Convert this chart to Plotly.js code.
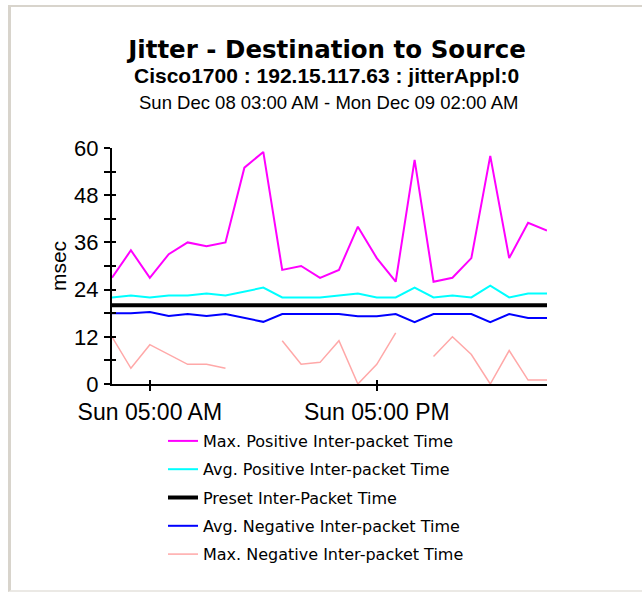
<!DOCTYPE html>
<html><head><meta charset="utf-8">
<script src="https://cdn.plot.ly/plotly-3.0.1.min.js"></script>
<style>
html,body{margin:0;padding:0;background:#fff;}
#frame{position:absolute;left:8px;top:5px;width:634px;height:587px;border-left:3px solid #d8d4cc;border-top:2px solid #d8d4cc;border-bottom:2px solid #ebe9e5;box-sizing:border-box;}
#chart{position:absolute;left:0;top:0;width:642px;height:592px;}
</style></head><body>
<div id="frame"></div>
<div id="chart"></div>
<script>
// ---- data ----
const times = [
  '2002-12-08 03:00','2002-12-08 04:00','2002-12-08 05:00','2002-12-08 06:00',
  '2002-12-08 07:00','2002-12-08 08:00','2002-12-08 09:00','2002-12-08 10:00',
  '2002-12-08 11:00','2002-12-08 12:00','2002-12-08 13:00','2002-12-08 14:00',
  '2002-12-08 15:00','2002-12-08 16:00','2002-12-08 17:00','2002-12-08 18:00',
  '2002-12-08 19:00','2002-12-08 20:00','2002-12-08 21:00','2002-12-08 22:00',
  '2002-12-08 23:00','2002-12-09 00:00','2002-12-09 01:00','2002-12-09 02:00'
];
const maxPositive = [27, 34, 27, 33, 36, 35, 36, 55, 59, 29, 30, 27, 29, 40, 32, 26, 57, 26, 27, 32, 58, 32, 41, 39];
const avgPositive = [22, 22.5, 22, 22.5, 22.5, 23, 22.5, 23.5, 24.5, 22, 22, 22, 22.5, 23, 22, 22, 24.5, 22, 22.5, 22, 25, 22, 23, 23];
const presetTime  = [20, 20, 20, 20, 20, 20, 20, 20, 20, 20, 20, 20, 20, 20, 20, 20, 20, 20, 20, 20, 20, 20, 20, 20];
const avgNegative = [18, 18, 18.3, 17.3, 17.8, 17.3, 17.8, 16.8, 15.8, 17.8, 17.8, 17.8, 17.8, 17.2, 17.2, 17.8, 15.7, 17.8, 17.8, 17.8, 15.7, 17.8, 16.8, 16.8];
const maxNegative = [12, 4, 10, 7.5, 5, 5, 4, null, null, 11, 5, 5.5, 11, 0, 5, 13, null, 7, 12, 7.5, 0, 8.5, 1, 1];
const seriesNames = ['Max. Positive Inter-packet Time','Avg. Positive Inter-packet Time','Preset Inter-Packet Time','Avg. Negative Inter-packet Time','Max. Negative Inter-packet Time'];
const xRange = ['2002-12-08 03:00','2002-12-09 02:00'];
const xTickVals = ['2002-12-08 05:00','2002-12-08 17:00'];
const xTickText = ['Sun 05:00 AM','Sun 05:00 PM'];
const yTickVals = [0, 6, 12, 18, 24, 30, 36, 42, 48, 54, 60];
const yTickText = ['0', '', '12', '', '24', '', '36', '', '48', '', '60'];
const titleText = 'Jitter - Destination to Source';
const subTitle1 = 'Cisco1700 : 192.15.117.63 : jitterAppl:0';
const subTitle2 = 'Sun Dec 08 03:00 AM - Mon Dec 09 02:00 AM';

// ---- geometry ----
const W = 642, H = 592, L = 112, R = 95, T = 148, B = 208;
const PW = W - L - R, PH = H - T - B;
const px2x = p => (p - L) / PW;
const px2y = p => (H - B - p) / PH;
const SANS = 'Liberation Sans, Arial, sans-serif';
const DEJA = 'DejaVu Sans, sans-serif';

const traces = [
  {x: times, y: maxPositive, name: seriesNames[0], mode: 'lines', line: {color: '#ff00ff', width: 2}, legendgroup: 'g1'},
  {x: times, y: avgPositive, name: seriesNames[1], mode: 'lines', line: {color: '#00ffff', width: 2}, legendgroup: 'g2'},
  {x: times, y: presetTime, name: seriesNames[2], mode: 'lines', line: {color: '#000000', width: 4}, legendgroup: 'g3', xaxis: 'x2', yaxis: 'y2'},
  {x: times, y: avgNegative, name: seriesNames[3], mode: 'lines', line: {color: '#0000ff', width: 2}, legendgroup: 'g4'},
  {x: times, y: maxNegative, name: seriesNames[4], mode: 'lines', line: {color: '#ffa8a8', width: 1.5}, legendgroup: 'g5', connectgaps: false}
];

const layout = {
  width: W, height: H,
  margin: {l: L, r: R, t: T, b: B, pad: 0},
  paper_bgcolor: 'rgba(0,0,0,0)', plot_bgcolor: 'rgba(0,0,0,0)',
  font: {family: SANS, color: '#000'},
  showlegend: true,
  title: {
    text: '<b>' + titleText + '</b>',
    font: {family: DEJA, size: 24.5, color: '#000'},
    xref: 'container', yref: 'container',
    x: 327 / W, xanchor: 'center', y: 1 - 49 / H, yanchor: 'middle'
  },
  annotations: [
    {text: '<b>' + subTitle1 + '</b>', xref: 'paper', yref: 'paper', x: px2x(326), y: px2y(76),
     xanchor: 'center', yanchor: 'middle', showarrow: false, font: {family: SANS, size: 21, color: '#000'}},
    {text: subTitle2, xref: 'paper', yref: 'paper', x: px2x(328), y: px2y(102),
     xanchor: 'center', yanchor: 'middle', showarrow: false, font: {family: SANS, size: 18.5, color: '#000'}}
  ],
  xaxis: {
    type: 'date', range: xRange, showgrid: false, zeroline: false,
    showline: true, linecolor: '#000', linewidth: 2,
    ticks: 'outside', ticklen: 5, tickwidth: 2, tickcolor: '#000',
    tickmode: 'array', tickvals: xTickVals, ticktext: xTickText,
    tickfont: {family: SANS, size: 23, color: '#000'}, ticklabelstandoff: 1
  },
  xaxis2: {
    type: 'date', range: xRange, overlaying: 'x', anchor: 'y2', showgrid: false, zeroline: false,
    showline: false, ticks: 'inside', ticklen: 4, tickwidth: 2, tickcolor: '#000',
    tickmode: 'array', tickvals: xTickVals, showticklabels: false
  },
  yaxis: {
    range: [0, 60], showgrid: false, zeroline: false,
    showline: true, linecolor: '#000', linewidth: 2,
    ticks: 'outside', ticklen: 6, tickwidth: 2, tickcolor: '#000',
    tickmode: 'array', tickvals: yTickVals, ticktext: yTickText,
    tickfont: {family: SANS, size: 22, color: '#000'}, ticklabelstandoff: 1,
    title: {text: 'msec', font: {family: SANS, size: 21, color: '#000'}, standoff: 2}
  },
  yaxis2: {
    range: [0, 60], overlaying: 'y', anchor: 'x2', showgrid: false, zeroline: false,
    showline: false, ticks: 'inside', ticklen: 4, tickwidth: 2, tickcolor: '#000',
    tickmode: 'array', tickvals: yTickVals, showticklabels: false
  },
  legend: {
    x: px2x(163), y: px2y(424), xanchor: 'left', yanchor: 'top',
    font: {family: DEJA, size: 16, color: '#000'},
    tracegroupgap: 4.5, itemwidth: 30, bgcolor: 'rgba(0,0,0,0)', borderwidth: 0,
    traceorder: 'grouped'
  }
};

Plotly.newPlot('chart', traces, layout, {displayModeBar: false, staticPlot: true});
</script></body></html>
